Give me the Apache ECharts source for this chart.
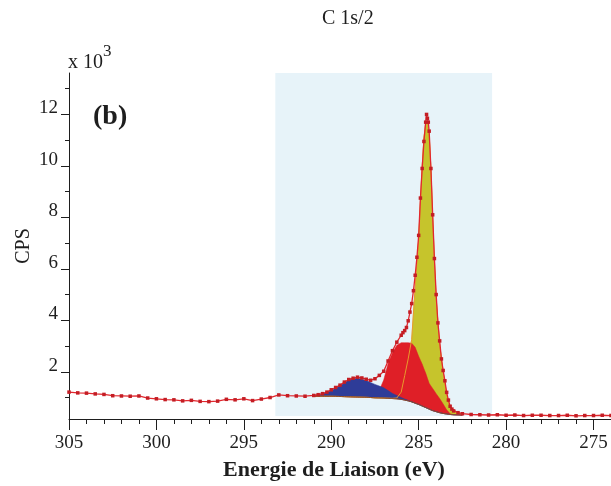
<!DOCTYPE html>
<html>
<head>
<meta charset="utf-8">
<script src="https://cdn.jsdelivr.net/npm/echarts@6/dist/echarts.min.js"></script>
<style>html,body{margin:0;padding:0;background:#fff}#c{width:611px;height:486px}</style>
</head>
<body>
<div id="c"></div>
<script>
// ---- data (CPS in thousands, binding energy in eV) ----
const spectrumE = [305.0,304.5,304.0,303.5,303.0,302.5,302.0,301.5,301.0,300.5,300.0,299.5,299.0,298.5,298.0,297.5,297.0,296.5,296.0,295.5,295.0,294.5,294.0,293.5,293.0,292.5,292.0,291.5,291.0,290.75,290.5,290.25,290.0,289.75,289.5,289.25,289.0,288.75,288.5,288.25,288.0,287.75,287.5,287.25,287.0,286.75,286.5,286.25,286.0,285.9,285.8,285.7,285.6,285.5,285.4,285.3,285.2,285.1,285.0,284.9,284.8,284.7,284.6,284.55,284.5,284.45,284.4,284.3,284.2,284.1,284.0,283.9,283.8,283.7,283.6,283.5,283.4,283.3,283.2,283.1,283.0,282.75,282.5,282.0,281.5,281.0,280.5,280.0,279.5,279.0,278.5,278.0,277.5,277.0,276.5,276.0,275.5,275.0,274.5,274.0];
const spectrumCPS = [1.21,1.18,1.17,1.14,1.12,1.07,1.06,1.05,1.06,0.98,0.95,0.92,0.91,0.87,0.89,0.85,0.84,0.86,0.93,0.91,0.95,0.88,0.94,1.00,1.10,1.07,1.06,1.05,1.08,1.11,1.15,1.21,1.30,1.39,1.48,1.60,1.70,1.75,1.79,1.76,1.71,1.67,1.73,1.86,2.02,2.42,2.82,3.15,3.42,3.52,3.60,3.72,3.98,4.32,4.65,5.15,5.75,6.45,7.30,8.75,9.90,10.95,11.70,12.00,11.85,11.70,11.35,9.90,8.10,6.40,5.00,3.90,3.20,2.50,2.05,1.65,1.20,0.90,0.66,0.55,0.48,0.41,0.37,0.34,0.33,0.32,0.33,0.31,0.32,0.30,0.31,0.31,0.30,0.30,0.31,0.29,0.30,0.30,0.31,0.30];

const fitE = [291.0,290.5,290.0,289.5,289.0,288.5,288.0,287.5,287.25,287.0,286.75,286.5,286.25,286.0,285.8,285.6,285.4,285.2,285.0,284.9,284.8,284.7,284.6,284.5,284.4,284.3,284.2,284.1,284.0,283.8,283.6,283.4,283.2,283.0,282.5];
const background = [1.05,1.05,1.05,1.04,1.03,1.02,1.01,0.99,0.985,0.98,0.97,0.96,0.95,0.93,0.90,0.87,0.83,0.78,0.73,0.70,0.67,0.64,0.61,0.58,0.55,0.52,0.49,0.47,0.45,0.41,0.38,0.36,0.34,0.33,0.32];
const bluePeak = [0.02,0.10,0.22,0.42,0.66,0.74,0.65,0.52,0.46,0.40,0.30,0.20,0.13,0.07,0.04,0.02,0.01,0,0,0,0,0,0,0,0,0,0,0,0,0,0,0,0,0,0];
const redPeak = [0,0,0,0,0,0,0,0.08,0.30,0.70,1.35,1.78,2.08,2.20,2.23,2.26,2.28,2.17,1.87,1.75,1.63,1.48,1.34,1.17,1.00,0.93,0.86,0.78,0.70,0.55,0.37,0.16,0.03,0,0];
const yellowPeak = [0,0,0,0,0,0,0,0,0,0,0.005,0.01,0.03,0.28,0.95,1.63,2.42,4.52,6.40,7.90,9.33,10.46,11.04,11.17,10.65,9.38,7.51,5.83,4.40,2.64,1.62,0.76,0.28,0.12,0.02];

const regionStart = 293.2, regionEnd = 280.8;
const xLabelValues = [305,300,295,290,285,280,275];
const yLabelValues = [2,4,6,8,10,12];
const yMinorValues = [1,3,5,7,9,11,13];

// ---- build ----
const X_MIN = 274, X_MAX = 305, Y_MIN = 0.165, Y_MAX = 13.61;
const serif = 'Liberation Serif';
const ink = '#1e1e1e';
const pair = (xs, ys) => xs.map((x, i) => [x, ys[i]]);
const xMinorValues = [];
for (let v = 275; v <= 305; v++) xMinorValues.push(v);

function fillSeries(name, comp, fill) {
  return {
    type: 'custom', name: name, silent: true, clip: true, z: 2,
    data: [[fitE[0], background[0]]],
    renderItem: function (params, api) {
      const top = fitE.map((e, i) => api.coord([e, background[i] + comp[i]]));
      const bottom = fitE.map((e, i) => api.coord([e, background[i]])).reverse();
      return { type: 'polygon', shape: { points: top.concat(bottom), smooth: 0 },
        style: { fill: fill, stroke: fill, lineWidth: 0.5 } };
    }
  };
}
function outlineSeries(name, comp, color) {
  return {
    type: 'custom', name: name + ' outline', silent: true, clip: true, z: 3,
    data: [[fitE[0], background[0]]],
    renderItem: function (params, api) {
      const pts = fitE.map((e, i) => api.coord([e, background[i] + comp[i]]));
      return { type: 'polyline', shape: { points: pts },
        style: { fill: null, stroke: color, lineWidth: 1 } };
    }
  };
}

const series = [
  { type: 'line', name: 'region', data: [], silent: true, z: 1,
    markArea: { silent: true, itemStyle: { color: '#e7f3f9' },
      data: [[{ xAxis: regionStart, yAxis: 0.28 }, { xAxis: regionEnd, yAxis: Y_MAX }]] } },
  fillSeries('C=O', yellowPeak, '#c6c42c'),
  fillSeries('C-O', redPeak, '#df1f27'),
  fillSeries('O-C=O', bluePeak, '#2e3c98'),
  outlineSeries('yellow', yellowPeak, '#e89a2c'),
  { type: 'line', name: 'background', data: pair(fitE, background), symbol: 'none', smooth: 0.2, z: 4,
    lineStyle: { color: '#8a4a28', width: 1 } },
  { type: 'line', name: 'spectrum', data: pair(spectrumE, spectrumCPS), z: 5,
    symbol: 'rect', symbolSize: 3.5, itemStyle: { color: '#c41d24' },
    lineStyle: { color: '#e2272e', width: 1.3 } }
];

const chart = echarts.init(document.getElementById('c'), null, { renderer: 'canvas' });
chart.setOption({
  animation: false,
  backgroundColor: '#fff',
  title: { text: 'C 1s/2', left: 322, top: 9, padding: 0,
    textStyle: { fontFamily: serif, fontSize: 20, fontWeight: 'normal', color: ink } },
  grid: { left: 69, right: 0, top: 73, bottom: 62, containLabel: false },
  xAxis: [
    { type: 'value', min: X_MIN, max: X_MAX, inverse: true,
      name: 'Energie de Liaison (eV)', nameLocation: 'middle', nameGap: 40, nameMoveOverlap: false,
      nameTextStyle: { fontFamily: serif, fontSize: 22, fontWeight: 'bold', color: ink, padding: [0, 12, 0, 0] },
      axisLine: { lineStyle: { color: ink, width: 1 } },
      axisTick: { customValues: xLabelValues, length: 11, lineStyle: { color: ink } },
      axisLabel: { customValues: xLabelValues, margin: 15, fontFamily: serif, fontSize: 19, color: ink },
      splitLine: { show: false } },
    { type: 'value', min: X_MIN, max: X_MAX, inverse: true, position: 'bottom',
      axisLine: { show: false },
      axisTick: { customValues: xMinorValues, length: 5, lineStyle: { color: ink } },
      axisLabel: { show: false }, splitLine: { show: false } }
  ],
  yAxis: [
    { type: 'value', min: Y_MIN, max: Y_MAX,
      name: 'CPS', nameLocation: 'middle', nameRotate: 90, nameGap: 35, nameMoveOverlap: false,
      nameTextStyle: { fontFamily: serif, fontSize: 20, color: ink },
      axisLine: { show: true, lineStyle: { color: ink, width: 1 } },
      axisTick: { show: true, customValues: yLabelValues, length: 8, lineStyle: { color: ink } },
      axisLabel: { customValues: yLabelValues, margin: 11, fontFamily: serif, fontSize: 19, color: ink,
        verticalAlign: 'bottom', lineHeight: 12 },
      splitLine: { show: false } },
    { type: 'value', min: Y_MIN, max: Y_MAX, position: 'left',
      axisLine: { show: false },
      axisTick: { show: true, customValues: yMinorValues, length: 4, lineStyle: { color: ink } },
      axisLabel: { show: false }, splitLine: { show: false } }
  ],
  graphic: [
    { type: 'text', left: 68, top: 53, style: { text: 'x 10', font: '20px "Liberation Serif"', fill: ink } },
    { type: 'text', left: 103, top: 43, style: { text: '3', font: '17px "Liberation Serif"', fill: ink } },
    { type: 'text', left: 93, top: 103, style: { text: '(b)', font: 'bold 28px "Liberation Serif"', fill: ink } }
  ],
  series: series
});
</script>
</body>
</html>
